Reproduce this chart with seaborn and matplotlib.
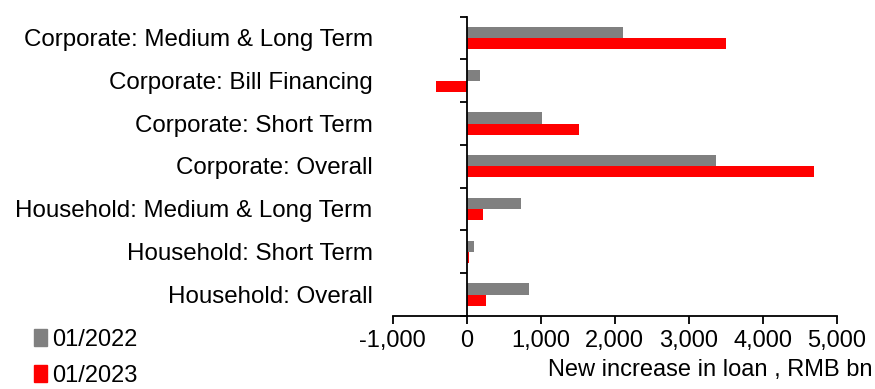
import matplotlib
matplotlib.use("Agg")
import matplotlib.pyplot as plt
import matplotlib.transforms as mtransforms
import seaborn as sns
import pandas as pd
import numpy as np

categories = [
    "Corporate: Medium & Long Term",
    "Corporate: Bill Financing",
    "Corporate: Short Term",
    "Corporate: Overall",
    "Household: Medium & Long Term",
    "Household: Short Term",
    "Household: Overall",
]
series_names = ["01/2022", "01/2023"]
values_2022 = [2110, 176, 1011, 3369, 740, 99, 844]
values_2023 = [3510, -416, 1518, 4697, 221, 27, 257]
x_ticks = [-1000, 0, 1000, 2000, 3000, 4000, 5000]
x_label = "New increase in loan , RMB bn"
colors = ["#808080", "#FF0000"]

df = pd.DataFrame({
    "category": categories * 2,
    "period": [series_names[0]] * len(categories) + [series_names[1]] * len(categories),
    "value": values_2022 + values_2023,
})

sns.set_theme(style="white")
plt.rcParams["font.family"] = ["Liberation Sans", "DejaVu Sans"]
plt.rcParams["text.color"] = "black"
FS = 17

fig = plt.figure(figsize=(8.75, 3.89), dpi=100)
ax = fig.add_axes([0.4488, 0.1877, 0.9562 - 0.4488, 0.957 - 0.1877])

sns.barplot(data=df, y="category", x="value", hue="period", order=categories,
            hue_order=series_names, palette=colors, orient="h", width=0.52,
            gap=0, saturation=1, edgecolor="none", linewidth=0, ax=ax)

ax.set_xlim(-1000, 5000)
ax.set_ylim(len(categories) - 0.5, -0.5)
ax.set_xticks(x_ticks)
ax.set_xticklabels([f"{t:,}" for t in x_ticks], fontsize=FS, color="black")
ax.tick_params(axis="x", direction="out", length=6, width=1.3, color="black", pad=4, bottom=True)

# y-axis at x=0 with ticks at category boundaries
ax.spines["left"].set_position(("data", 0))
for s in ["top", "right"]:
    ax.spines[s].set_visible(False)
for s in ["left", "bottom"]:
    ax.spines[s].set_color("black")
    ax.spines[s].set_linewidth(1.3)
ax.set_yticks(np.arange(len(categories)))
ax.set_yticklabels([])
ax.tick_params(axis="y", which="major", length=0, left=False)
ax.set_yticks(np.arange(len(categories) + 1) - 0.5, minor=True)
ax.tick_params(axis="y", which="minor", direction="out", length=5, width=1.3, color="black", left=True)
ax.set_ylabel("")

trans = mtransforms.blended_transform_factory(ax.transAxes, ax.transData)
for i, c in enumerate(categories):
    ax.text(-0.045, i + 0.05, c, transform=trans, ha="right", va="center",
            fontsize=17.4, color="black")

ax.set_xlabel(x_label, fontsize=FS, color="black", ha="right", va="center")
ax.xaxis.set_label_coords(1.081, -0.18)

leg = ax.get_legend()
if leg is not None:
    leg.remove()
handles = [plt.Rectangle((0, 0), 1, 1, color=c) for c in colors]
fig.legend(handles, series_names, loc="lower left", bbox_to_anchor=(0.028, -0.018),
           frameon=False, fontsize=FS, handlelength=0.55, handleheight=0.7,
           handletextpad=0.2, labelspacing=0.58, borderaxespad=0, labelcolor="black")

fig.savefig("out.png", dpi=100)
